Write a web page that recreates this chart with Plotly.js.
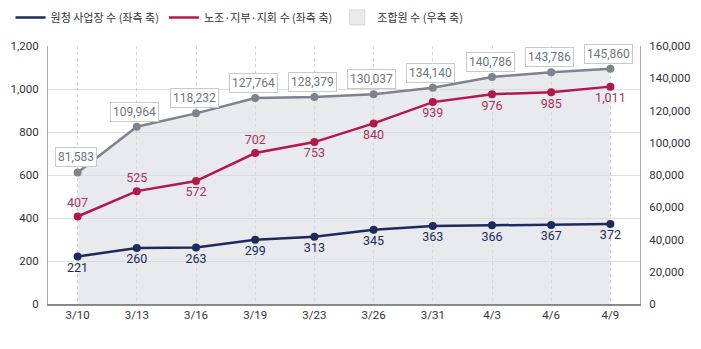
<!DOCTYPE html>
<html>
<head>
<meta charset="utf-8">
<script src="https://cdn.plot.ly/plotly-3.0.1.min.js"></script>
<style>html,body{margin:0;padding:0;background:#fff;}#chart{width:701px;height:349px;}</style>
</head>
<body>
<div id="chart"></div>
<script>
const categories = ['3/10','3/13','3/16','3/19','3/23','3/26','3/31','4/3','4/6','4/9'];
const sites = [221,260,263,299,313,345,363,366,367,372];
const unions = [407,525,572,702,753,840,939,976,985,1011];
const members = [81583,109964,118232,127764,128379,130037,134140,140786,143786,145860];
const unionLabelPos = ['top center','top center','bottom center','top center','bottom center','bottom center','bottom center','bottom center','bottom center','bottom center'];

const NAVY = '#1c2b5c', RED = '#b3184a', GRAY = '#7d848d';
const fontNum = 'Roboto, "Noto Sans CJK KR", sans-serif';
const fontKr = '"Noto Sans CJK KR", "Noto Sans", sans-serif';

const fmt = v => v.toLocaleString('en-US');

// primary y = right axis (members), y2 = left axis overlaying (counts) so lines draw on top
const traces = [
  { x: categories, y: members, yaxis: 'y', type: 'scatter', mode: 'none', fill: 'tozeroy',
    fillcolor: 'rgba(214,216,224,0.55)', showlegend: false, hoverinfo: 'skip' },
  { x: categories, y: members, yaxis: 'y', type: 'scatter', mode: 'lines+markers',
    line: {color: GRAY, width: 2.5}, marker: {color: GRAY, size: 8}, showlegend: false },
  { x: categories, y: sites, yaxis: 'y2', type: 'scatter', mode: 'lines', line: {color: NAVY, width: 2.5},
    name: '원청 사업장 수 (좌측 축)', legendrank: 1 },
  { x: categories, y: sites, yaxis: 'y2', type: 'scatter', mode: 'markers+text', marker: {color: NAVY, size: 8},
    text: sites.map(fmt), textposition: 'bottom center', textfont: {family: fontNum, size: 12.5, color: '#1c2b5c'},
    showlegend: false },
  { x: categories, y: unions, yaxis: 'y2', type: 'scatter', mode: 'lines', line: {color: RED, width: 2.5},
    name: '노조·지부·지회 수 (좌측 축)', legendrank: 2 },
  { x: categories, y: unions, yaxis: 'y2', type: 'scatter', mode: 'markers+text', marker: {color: RED, size: 8},
    text: unions.map(fmt), textposition: unionLabelPos, textfont: {family: fontNum, size: 12.5, color: '#a8345a'},
    showlegend: false },
  // legend swatch for the area series (members), plotted on a hidden axis whose range keeps the points out of view
  { x: categories, y: members, yaxis: 'y3', type: 'scatter', mode: 'markers',
    marker: {symbol: 'square', size: 15, color: '#e9eaee', line: {color: '#d6d6d6', width: 1}},
    name: '조합원 수 (우측 축)', legendrank: 3, hoverinfo: 'skip' }
];

const annotations = categories.map((c, i) => ({
  x: c, y: members[i], xref: 'x', yref: 'y', text: fmt(members[i]), showarrow: false,
  yshift: 15, xshift: -2, font: {family: fontNum, size: 12, color: '#6f757d'},
  bgcolor: '#ffffff', bordercolor: '#c9c9c9', borderwidth: 1, borderpad: 2
}));

const layout = {
  width: 701, height: 349,
  margin: {l: 48, r: 61, t: 46, b: 45},
  paper_bgcolor: '#ffffff', plot_bgcolor: '#ffffff',
  showlegend: true,
  legend: {orientation: 'h', xref: 'container', yref: 'container', x: 0.015, y: 0.95, yanchor: 'middle',
    font: {family: fontKr, size: 11, color: '#333'}, traceorder: 'normal', itemwidth: 30},
  xaxis: {type: 'category', range: [-0.5, 9.5], showgrid: true, gridcolor: '#d4d4d4', griddash: 'dot',
    showline: true, linecolor: '#888', linewidth: 1.5, ticks: '', tickfont: {family: fontNum, size: 11.5, color: '#333'},
    zeroline: false, fixedrange: true},
  yaxis: {range: [0, 160000], dtick: 20000, tickformat: ',d', side: 'right',
    showgrid: false, showline: true, linecolor: '#aaa', linewidth: 1, ticks: '', zeroline: false,
    tickfont: {family: fontNum, size: 11.5, color: '#333'}, ticklabelstandoff: 6},
  yaxis2: {range: [0, 1200], dtick: 200, tickformat: ',d', overlaying: 'y', side: 'left',
    showgrid: true, gridcolor: 'rgba(200,200,200,0.6)', showline: true, linecolor: '#aaa', linewidth: 1,
    ticks: '', zeroline: false, tickfont: {family: fontNum, size: 11.5, color: '#333'}, ticklabelstandoff: 6},
  yaxis3: {range: [1e6, 2e6], overlaying: 'y', visible: false, showgrid: false},
  annotations: annotations
};

Plotly.newPlot('chart', traces, layout, {displayModeBar: false, staticPlot: true});
</script>
</body>
</html>
